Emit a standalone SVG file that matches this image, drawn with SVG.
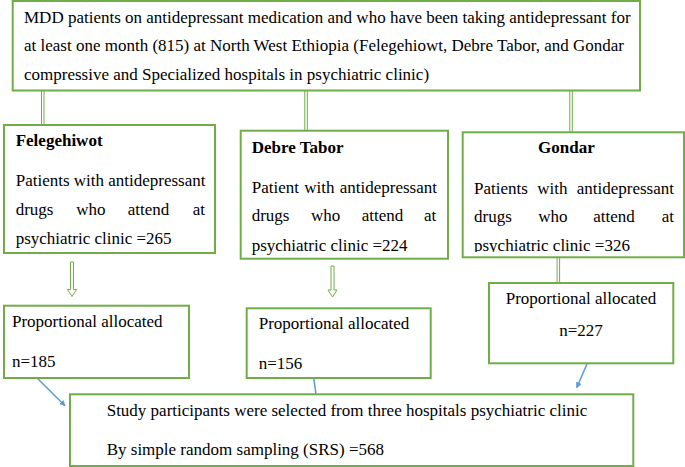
<svg xmlns="http://www.w3.org/2000/svg" width="685" height="467" viewBox="0 0 685 467">
<defs>
<style>
.box{fill:#fff;stroke:#70AD47;stroke-width:2}
.t{font-family:"Liberation Serif","Times New Roman",serif;font-size:17px;fill:#000}
.b{font-weight:bold}
.dl{stroke:#70AD47;stroke-width:1;fill:none}
.ha{stroke:#70AD47;stroke-width:1;fill:#fff}
.bl{stroke:#5B9BD5;stroke-width:1.5;fill:none}
</style>
<marker id="ah" viewBox="0 0 10 10" refX="9" refY="5" markerWidth="6" markerHeight="6" orient="auto" markerUnits="userSpaceOnUse">
<path d="M0,0 L10,5 L0,10 Z" fill="#5B9BD5"/>
</marker>
<clipPath id="gclip"><rect x="462" y="132" width="222" height="120"/></clipPath>
</defs>
<g id="connectors">
<path class="dl" d="M41.5,90.5 V125 M44,90.5 V125"/>
<path class="dl" d="M304.8,90.5 V130.7 M307.3,90.5 V130.7"/>
<path class="dl" d="M569.8,90.5 V132.3 M572.3,90.5 V132.3"/>
<path class="dl" d="M557.1,257.3 V283 M559.6,257.3 V283"/>
<path class="ha" d="M70.5,262 V289.5 H67.5 L72,296.5 L76.5,289.5 H73.5 V262 Z"/>
<path class="ha" d="M331,266 V290 H328 L332.5,297 L337,290 H334 V266 Z"/>
<line class="bl" x1="37.3" y1="378.3" x2="65" y2="405.7" marker-end="url(#ah)"/>
<line class="bl" x1="313.3" y1="375" x2="316" y2="394.3"/>
<line class="bl" x1="587.3" y1="363.3" x2="576.7" y2="387.7" marker-end="url(#ah)"/>
</g>
<g id="top">
<rect class="box" x="12.7" y="1" width="627.3" height="89.5"/>
<text class="t" x="24" y="22.5">MDD patients on antidepressant medication and who have been taking antidepressant for</text>
<text class="t" x="24" y="51">at least one month (815) at North West Ethiopia (Felegehiowt, Debre Tabor, and Gondar</text>
<text class="t" x="24" y="79.5">compressive and Specialized hospitals in psychiatric clinic)</text>
</g>
<g id="felegehiwot">
<rect class="box" x="4" y="125" width="211" height="128"/>
<text class="t b" x="15.7" y="146">Felegehiwot</text>
<text class="t" x="15.7" y="186">Patients with antidepressant</text>
<text class="t" y="215"><tspan x="15.7">drugs</tspan><tspan x="76.3">who</tspan><tspan x="127.7">attend</tspan><tspan x="192.7">at</tspan></text>
<text class="t" x="15.7" y="243.5">psychiatric clinic =265</text>
</g>
<g id="debretabor">
<rect class="box" x="240.7" y="130.7" width="207.3" height="128"/>
<text class="t b" x="251.7" y="152.7">Debre Tabor</text>
<text class="t" y="192.7"><tspan x="251.7">Patient</tspan><tspan x="304.2">with</tspan><tspan x="339.7">antidepressant</tspan></text>
<text class="t" y="221"><tspan x="251.7">drugs</tspan><tspan x="311">who</tspan><tspan x="361.7">attend</tspan><tspan x="424">at</tspan></text>
<text class="t" x="251.7" y="250.5">psychiatric clinic =224</text>
</g>
<g id="gondar">
<rect class="box" x="462.7" y="132.3" width="221.3" height="125"/>
<text class="t b" x="538" y="153.3">Gondar</text>
<text class="t" y="194"><tspan x="474">Patients</tspan><tspan x="537.3">with</tspan><tspan x="576.7">antidepressant</tspan></text>
<text class="t" y="222.3"><tspan x="474">drugs</tspan><tspan x="538.3">who</tspan><tspan x="593.3">attend</tspan><tspan x="661.7">at</tspan></text>
<text class="t" x="474" y="250.7" clip-path="url(#gclip)">psychiatric clinic =326</text>
</g>
<g id="prop1">
<rect class="box" x="4" y="305.7" width="185" height="72.3"/>
<text class="t" x="12" y="326.7">Proportional allocated</text>
<text class="t" x="12" y="366.7">n=185</text>
</g>
<g id="prop2">
<rect class="box" x="246.7" y="308.3" width="184" height="69.7"/>
<text class="t" x="258.7" y="329.3">Proportional allocated</text>
<text class="t" x="258.7" y="369.3">n=156</text>
</g>
<g id="prop3">
<rect class="box" x="489" y="283" width="184.3" height="80.3"/>
<text class="t" x="581" y="304" text-anchor="middle">Proportional allocated</text>
<text class="t" x="581" y="335.7" text-anchor="middle">n=227</text>
</g>
<g id="study">
<rect class="box" x="70" y="394.3" width="563.3" height="71.7"/>
<text class="t" x="106.7" y="416">Study participants were selected from three hospitals psychiatric clinic</text>
<text class="t" x="106.7" y="455">By simple random sampling (SRS) =568</text>
</g>
</svg>
